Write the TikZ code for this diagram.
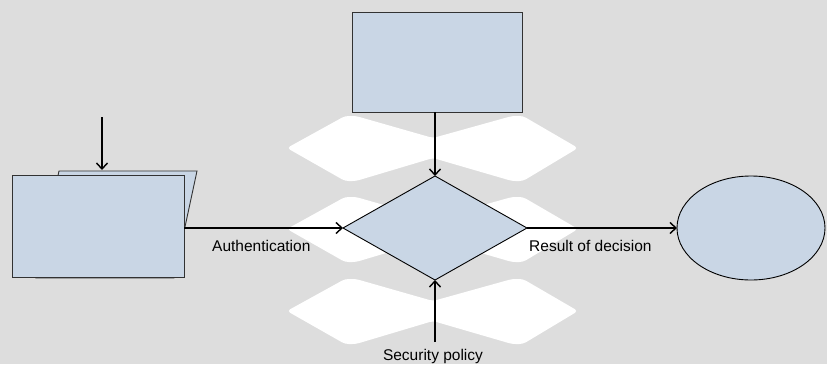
\documentclass[tikz,border=0pt]{standalone}
\usepackage{fontspec}
\setmainfont{Liberation Sans}
\usetikzlibrary{shapes.geometric,arrows.meta}
\definecolor{bggray}{RGB}{221,221,221}
\definecolor{boxfill}{RGB}{201,214,229}
\definecolor{edgegray}{RGB}{50,50,50}
\tikzset{
  shapebox/.style={draw=edgegray, fill=boxfill, line width=0.9pt, inner sep=0pt, outer sep=0pt},
  arr/.style={draw=black, line width=1.6pt, -{Straight Barb[length=6pt,width=11pt,line width=1.4pt]}},
  lbl/.style={font=\fontsize{15.5}{18}\selectfont, inner sep=0pt, text=black},
  glow/.style={fill=white, draw=none, rounded corners=3.5pt},
}
\begin{document}
\begin{tikzpicture}[x=1pt,y=-1pt]
  % canvas
  \fill[bggray] (0,0) rectangle (827,364);
  \useasboundingbox (0,0) rectangle (827,364);

  % white wavy bands behind the decision
  \foreach \cy in {148,229,311}{
    \fill[glow] (287,\cy) -- (345,\cy-32) -- (356,\cy-32) -- (433,\cy-10)
      -- (512,\cy-32) -- (523,\cy-32) -- (578,\cy)
      -- (523,\cy+33) -- (512,\cy+33) -- (433,\cy+10)
      -- (356,\cy+33) -- (345,\cy+33) -- cycle;
  }

  % input document (back sheet, then front sheet)
  \draw[shapebox] (59,171) -- (197,171) -- (174,278) -- (36,278) -- cycle;
  \node[shapebox, rectangle, minimum width=172pt, minimum height=102pt] (doc) at (98,226) {};
  \coordinate (docsrc) at (102,117);
  \coordinate (doctop) at (102,170);

  % upper process box
  \node[shapebox, rectangle, minimum width=170pt, minimum height=100pt] (top) at (437,62) {};

  % decision
  \node[shapebox, draw=black, diamond, minimum width=184pt, minimum height=104pt] (dia) at (435,228) {};

  % outcome
  \node[shapebox, draw=black, ellipse, minimum width=148pt, minimum height=104pt] (ell) at (751,228) {};

  % policy label
  \node[lbl, anchor=base] (sec) at (433,360) {Security policy};
  \coordinate (secsrc) at (435,342);

  % connectors
  \draw[arr] (docsrc) -- (doctop);
  \draw[arr] (dia.west -| doc.east) -- (dia.west);
  \draw[arr] (dia.north |- top.south) -- (dia.north);
  \draw[arr] (dia.east) -- (ell.west);
  \draw[arr] (secsrc) -- (dia.south);

  % connector labels
  \node[lbl, anchor=base west] (auth) at (212,251) {Authentication};
  \node[lbl, anchor=base west] (res) at (529,251) {Result of decision};
\end{tikzpicture}
\end{document}
